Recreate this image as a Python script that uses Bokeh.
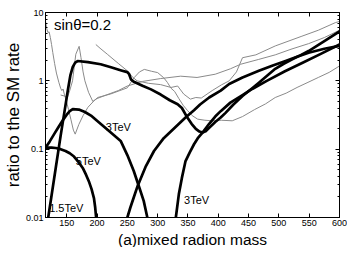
from bokeh.plotting import figure
from bokeh.models import LogAxis, LinearAxis, FixedTicker, CustomJSTickFormatter, ColumnDataSource, Range1d, Title
from bokeh.core.properties import value
from bokeh.embed import file_html
from bokeh.resources import INLINE

# ---------------- data ----------------
x_ticks = [150, 200, 250, 300, 350, 400, 450, 500, 550, 600]
y_ticks = [0.01, 0.1, 1, 10]
y_minor = [0.02, 0.03, 0.04, 0.05, 0.06, 0.07, 0.08, 0.09,
           0.2, 0.3, 0.4, 0.5, 0.6, 0.7, 0.8, 0.9,
           2, 3, 4, 5, 6, 7, 8, 9]

# thick curves
a15_m = [119.5, 125, 132, 140, 146, 152, 156, 160, 164, 168, 185, 206, 223, 240, 250, 253, 256, 260,
         275, 289, 305, 320, 333, 340, 349, 356, 363, 369, 374,
         380, 385, 395, 404, 412, 425, 440, 456, 467, 480, 494, 508, 522, 536, 549, 575, 600]
a15_v = [0.01, 0.021, 0.054, 0.158, 0.34, 0.74, 1.2, 1.6, 1.85, 1.95, 1.88, 1.75, 1.58, 1.42, 1.34, 1.25, 1.05, 0.98,
         0.85, 0.75, 0.63, 0.52, 0.455, 0.4, 0.29, 0.235, 0.198, 0.181, 0.175,
         0.185, 0.205, 0.25, 0.29, 0.34, 0.45, 0.6, 0.78, 0.94, 1.18, 1.5, 1.78, 2.07, 2.38, 2.73, 3.8, 5.3]

tev5_m = [115, 125, 132, 140, 148, 155, 162, 170, 177, 182, 187, 191, 195, 197, 198.5]
tev5_v = [0.105, 0.105, 0.104, 0.1, 0.094, 0.087, 0.078, 0.064, 0.052, 0.042, 0.033, 0.026, 0.019, 0.014, 0.01]

tev3a_m = [115, 122, 130, 137, 143, 150, 155, 160, 170, 180, 190, 200, 215, 228, 239, 250, 260.6, 270, 277, 283]
tev3a_v = [0.105, 0.13, 0.17, 0.215, 0.26, 0.32, 0.36, 0.385, 0.38, 0.35, 0.31, 0.26, 0.2, 0.16, 0.132,
           0.082, 0.048, 0.027, 0.0175, 0.01]

r250_m = [250, 255, 260, 267, 280, 294, 310, 333, 346, 360, 370, 385, 404, 418, 440, 467, 490, 511, 530, 549, 575, 600]
r250_v = [0.01, 0.014, 0.019, 0.029, 0.055, 0.094, 0.145, 0.225, 0.29, 0.37, 0.45, 0.57, 0.72, 0.9, 1.12,
          1.4, 1.68, 1.95, 2.25, 2.58, 2.95, 3.24]

tev3b_m = [330, 335, 340, 346, 353, 360, 367, 374, 380, 385, 395, 404, 420, 440, 456, 480, 510, 540, 570, 600]
tev3b_v = [0.01, 0.022, 0.038, 0.067, 0.09, 0.118, 0.148, 0.175, 0.205, 0.235, 0.3, 0.36, 0.48, 0.62, 0.76,
           1.0, 1.38, 1.85, 2.5, 3.4]

# thin grey curves
g1_m = [115, 117, 119, 121, 123, 125, 127, 130, 133, 137, 140, 142, 144, 146, 149, 153, 157, 161, 164, 170,
        177, 185, 195, 201, 222, 250, 261, 270, 278, 290, 300, 310, 316, 322, 328, 335, 342, 349, 357, 366,
        378, 390, 405, 423, 440, 460, 478, 494, 512, 530, 548, 565, 583, 600]
g1_v = [7.5, 5.8, 5.1, 5.2, 4.3, 3.4, 2.6, 1.8, 1.3, 0.95, 0.78, 0.72, 0.76, 0.64, 0.52, 0.38, 0.27, 0.19,
        0.166, 0.23, 0.31, 0.41, 0.51, 0.57, 0.64, 0.79, 1.11, 1.35, 1.47, 1.38, 1.32, 1.11, 0.95, 0.78, 0.7,
        0.55, 0.44, 0.37, 0.31, 0.275, 0.265, 0.26, 0.265, 0.26, 0.3, 0.38, 0.46, 0.57, 0.66, 0.8, 0.95, 1.12,
        1.33, 1.65]

g2_m = [140, 146, 151, 155, 159.6, 165, 170.5, 173.5, 177, 180, 186, 193, 200, 215, 235, 250, 275, 305, 338,
        365, 395, 420, 437, 466, 494, 520, 549, 575, 600]
g2_v = [0.62, 0.6, 0.57, 0.72, 1.0, 2.45, 3.2, 2.2, 1.35, 1.0, 0.68, 0.5, 0.55, 0.62, 0.72, 0.84, 0.98, 1.08,
        1.17, 1.12, 1.25, 1.5, 1.75, 2.05, 2.4, 2.9, 3.5, 4.3, 5.5]

g3_m = [198, 205, 217, 235, 250, 258, 266, 285, 305, 322, 333, 343, 354, 363, 372, 390, 405, 418, 430, 440,
        462, 494, 538, 565, 593, 600]
g3_v = [3.4, 3.0, 2.45, 1.8, 1.4, 1.15, 1.0, 0.92, 0.88, 0.8, 0.84, 0.64, 0.54, 0.57, 0.56, 0.72, 0.87, 1.0,
        1.35, 2.18, 2.4, 3.24, 4.5, 5.5, 7.1, 7.4]

label_x = [121, 165, 214.5, 343.5]
label_y = [0.0137, 0.066, 0.21, 0.018]
label_t = ["1.5TeV", "5TeV", "3TeV", "3TeV"]

FONT = "Liberation Sans"

# ---------------- figure ----------------
p = figure(frame_width=294, frame_height=205, x_range=Range1d(115, 600), y_range=Range1d(0.01, 10),
           y_axis_type="log", output_backend="svg", toolbar_location=None,
           min_border_left=36, min_border_right=8, min_border_top=12, min_border_bottom=0)
p.xgrid.visible = False
p.ygrid.visible = False
p.outline_line_color = "black"
p.outline_line_alpha = 1
p.outline_line_width = 1
p.background_fill_color = "white"
p.border_fill_color = "white"

x_ticker = FixedTicker(ticks=x_ticks, minor_ticks=[])
y_ticker = FixedTicker(ticks=y_ticks, minor_ticks=y_minor)


def style(ax, show_labels):
    ax.major_tick_in = 4
    ax.major_tick_out = 0
    ax.minor_tick_in = 2
    ax.minor_tick_out = 0
    ax.axis_line_color = "black"
    ax.major_tick_line_color = "black"
    ax.minor_tick_line_color = "black"
    ax.major_label_text_font = FONT
    ax.major_label_text_color = "black"
    if show_labels:
        ax.major_label_text_font_size = "9px"
        ax.major_label_standoff = 2
    else:
        ax.major_label_text_font_size = "0px"
        ax.major_label_standoff = 0
        ax.formatter = CustomJSTickFormatter(code="return ''")


xb = p.below[0]
xb.ticker = x_ticker
style(xb, True)

yl = p.left[0]
yl.ticker = y_ticker
style(yl, True)
yl.formatter = CustomJSTickFormatter(code="return tick.toString()")
yl.axis_label = "ratio to the SM rate"
yl.axis_label_text_font = FONT
yl.axis_label_text_font_size = "17px"
yl.axis_label_text_font_style = "normal"
yl.axis_label_text_color = "black"
yl.axis_label_standoff = 0

yr = LogAxis(ticker=FixedTicker(ticks=y_ticks, minor_ticks=y_minor))
style(yr, False)
p.add_layout(yr, "right")

xt = LinearAxis(ticker=FixedTicker(ticks=x_ticks, minor_ticks=[]))
style(xt, False)
p.add_layout(xt, "above")

xtitle = Title(text="(a)mixed radion mass", align="center", text_font=FONT, text_font_size="15.5px",
               text_font_style="normal", text_color="black", standoff=0, offset=0)
p.add_layout(xtitle, "below")

grey = "#8a8a8a"
for gm, gv in [(g1_m, g1_v), (g2_m, g2_v), (g3_m, g3_v)]:
    p.line(gm, gv, line_color=grey, line_width=1)

for cm, cv in [(a15_m, a15_v), (tev5_m, tev5_v), (tev3a_m, tev3a_v), (r250_m, r250_v), (tev3b_m, tev3b_v)]:
    p.line(cm, cv, line_color="black", line_width=2.7, line_join="round", line_cap="round")

src = ColumnDataSource(dict(x=label_x, y=label_y, t=label_t))
p.text(x="x", y="y", text="t", source=src, text_font=value(FONT), text_font_size="11px",
       text_color="black", text_baseline="middle", text_align="left")

p.text(x=[129], y=[6.7], text=["sinθ=0.2"], text_font=value(FONT), text_font_size="15px",
       text_color="black", text_baseline="middle", text_align="left")

open("out.html", "w").write(file_html(p, INLINE))
